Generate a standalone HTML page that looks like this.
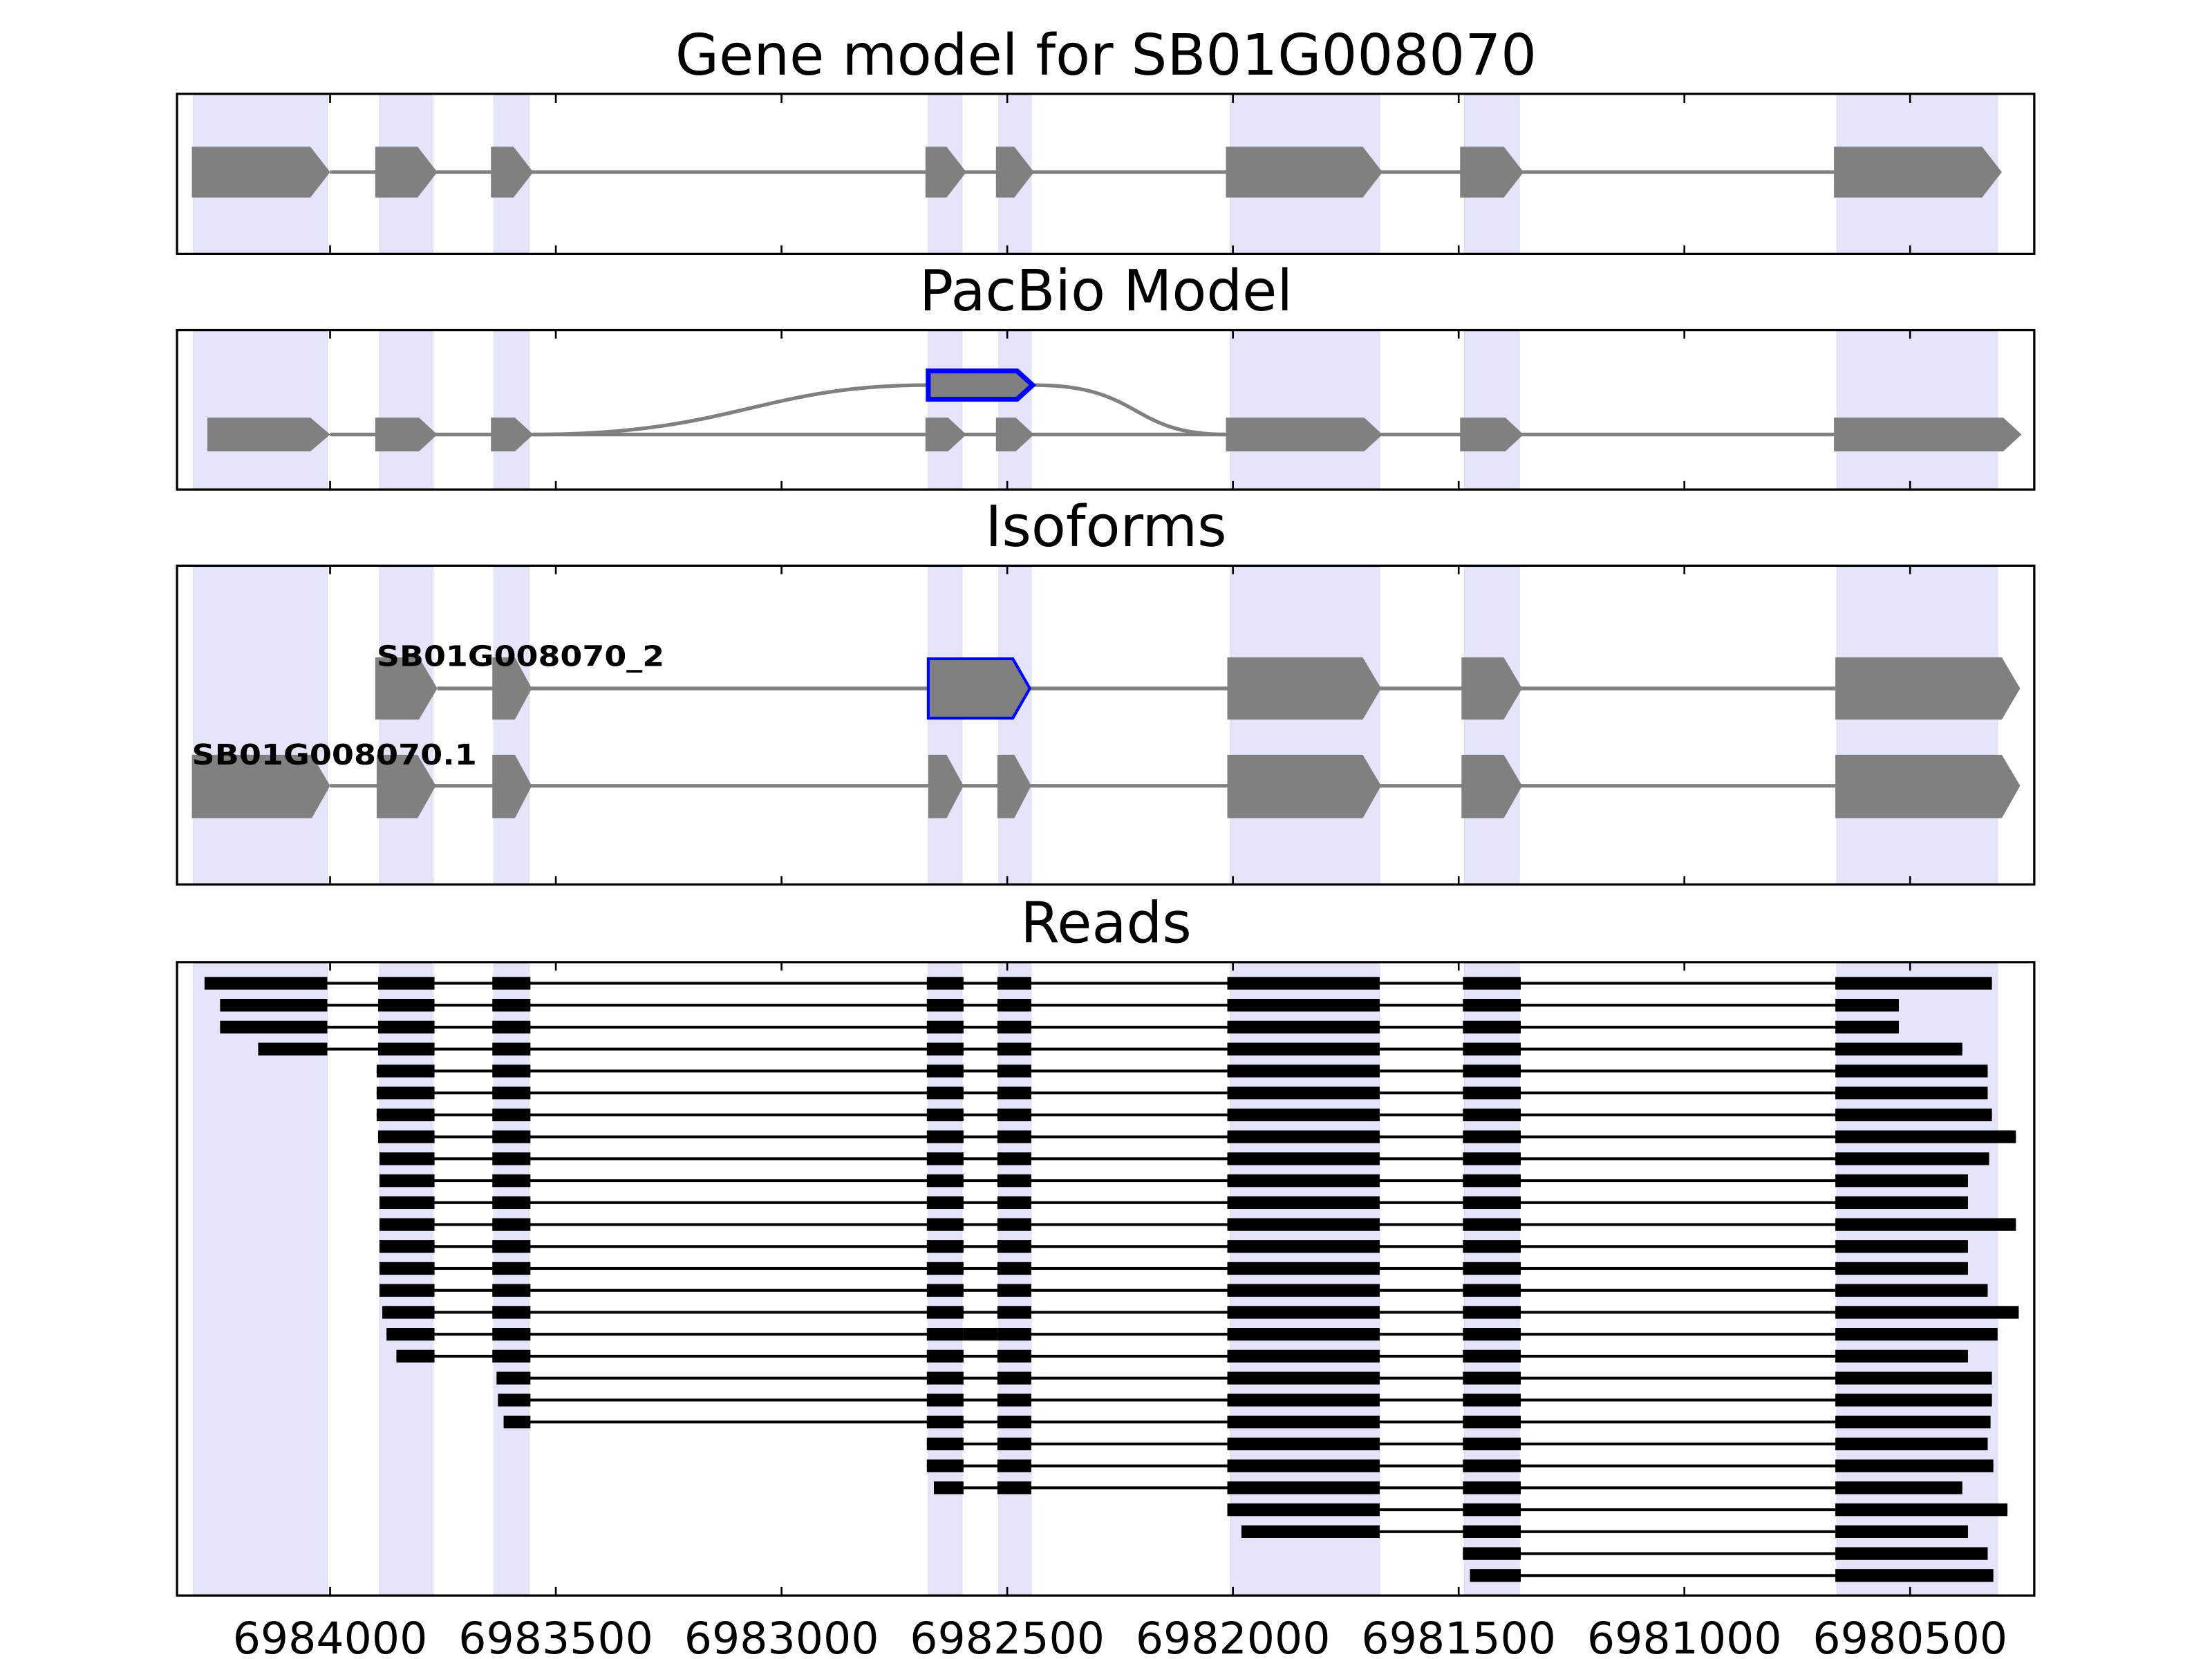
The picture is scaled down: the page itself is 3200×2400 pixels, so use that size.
<!DOCTYPE html>
<html><head><meta charset="utf-8"><style>html,body{margin:0;padding:0;background:#fff}svg{display:block}</style></head>
<body>
<svg xmlns="http://www.w3.org/2000/svg" xmlns:xlink="http://www.w3.org/1999/xlink" width="3200" height="2400" viewBox="0 0 1568 1176" font-family="DejaVu Sans, Liberation Sans, sans-serif">
<defs>
<g id="bands">
<rect x="137" y="0" width="95" height="1" vector-effect="non-scaling-stroke"/><rect x="269" y="0" width="38" height="1" vector-effect="non-scaling-stroke"/><rect x="350" y="0" width="25" height="1" vector-effect="non-scaling-stroke"/><rect x="658" y="0" width="24" height="1" vector-effect="non-scaling-stroke"/><rect x="708" y="0" width="23" height="1" vector-effect="non-scaling-stroke"/><rect x="872" y="0" width="106" height="1" vector-effect="non-scaling-stroke"/><rect x="1038" y="0" width="39" height="1" vector-effect="non-scaling-stroke"/><rect x="1302" y="0" width="114" height="1" vector-effect="non-scaling-stroke"/>
</g>
<g id="ticks" stroke="#000" stroke-width="1.3">
<path d="M234,0v6M394,0v6M554,0v6M714,0v6M874,0v6M1034,0v6M1194,0v6M1354,0v6"/>
</g>
<g id="defg"><rect x="657" y="-4.5" width="26" height="9"/><rect x="707" y="-4.5" width="24" height="9"/><rect x="870" y="-4.5" width="108" height="9"/><rect x="1037" y="-4.5" width="41" height="9"/></g>
<g id="cg"><rect x="349" y="-4.5" width="27" height="9"/><use xlink:href="#defg"/></g>
<g id="bcg"><rect x="268" y="-4.5" width="40" height="9"/><use xlink:href="#cg"/></g>
</defs>

<!-- bands -->
<g fill="#e4e4fb" stroke="#dadaf0" stroke-width="1">
<use xlink:href="#bands" transform="translate(0,67) scale(1,112)"/>
<use xlink:href="#bands" transform="translate(0,235) scale(1,111)"/>
<use xlink:href="#bands" transform="translate(0,402) scale(1,224)"/>
<use xlink:href="#bands" transform="translate(0,683) scale(1,447)"/>
</g>

<!-- titles -->
<g font-size="40" text-anchor="middle" fill="#000">
<text x="784" y="53">Gene model for SB01G008070</text>
<text x="784" y="220">PacBio Model</text>
<text x="784" y="387">Isoforms</text>
<text x="784" y="668">Reads</text>
</g>

<!-- panel 1 -->
<g fill="#808080">
<line x1="234" y1="122" x2="1300" y2="122" stroke="#808080" stroke-width="2.6"/>
<polygon points="136,104 220,104 234,122 220,140 136,140"/>
<polygon points="266,104 296,104 310,122 296,140 266,140"/>
<polygon points="348,104 364,104 378,122 364,140 348,140"/>
<polygon points="656,104 671,104 685,122 671,140 656,140"/>
<polygon points="706,104 719,104 733,122 719,140 706,140"/>
<polygon points="869,104 966,104 980,122 966,140 869,140"/>
<polygon points="1035,104 1066,104 1080,122 1066,140 1035,140"/>
<polygon points="1300,104 1405,104 1419,122 1405,140 1300,140"/>
</g>

<!-- panel 2 -->
<g fill="#808080">
<g fill="none" stroke="#808080" stroke-width="2.6">
<line x1="234" y1="308" x2="1300" y2="308"/>
<path d="M378,308 C520,308 540,273 657,273"/>
<path d="M733,273 C810,273 800,308 869,308"/>
</g>
<polygon points="147,296 220,296 234,308 220,320 147,320"/>
<polygon points="266,296 297,296 310,308 297,320 266,320"/>
<polygon points="348,296 365,296 378,308 365,320 348,320"/>
<polygon points="656,296 672,296 685,308 672,320 656,320"/>
<polygon points="706,296 720,296 733,308 720,320 706,320"/>
<polygon points="869,296 967,296 980,308 967,320 869,320"/>
<polygon points="1035,296 1067,296 1080,308 1067,320 1035,320"/>
<polygon points="1300,296 1420,296 1433,308 1420,320 1300,320"/>
<polygon points="658,263 721,263 732,273 721,283 658,283" stroke="#0000ff" stroke-width="3.5"/>
</g>

<!-- panel 3 -->
<g fill="#808080">
<g stroke="#808080" stroke-width="2.6">
<line x1="310" y1="488" x2="1301" y2="488"/>
<line x1="234" y1="557" x2="1301" y2="557"/>
</g>
<polygon points="266,466 297,466 310,488 297,510 266,510"/>
<polygon points="349,466 365,466 377,488 365,510 349,510"/>
<polygon points="658,467 718,467 730,488 718,509 658,509" stroke="#0000ff" stroke-width="2"/>
<polygon points="870,466 966,466 979,488 966,510 870,510"/>
<polygon points="1036,466 1066,466 1079,488 1066,510 1036,510"/>
<polygon points="1301,466 1419,466 1432,488 1419,510 1301,510"/>

<polygon points="136,535 221,535 234,557 221,580 136,580"/>
<polygon points="267,535 296,535 309,557 296,580 267,580"/>
<polygon points="349,535 365,535 377,557 365,580 349,580"/>
<polygon points="658,535 671,535 683,557 671,580 658,580"/>
<polygon points="707,535 719,535 731,557 719,580 707,580"/>
<polygon points="870,535 966,535 979,557 966,580 870,580"/>
<polygon points="1036,535 1066,535 1079,557 1066,580 1036,580"/>
<polygon points="1301,535 1419,535 1432,557 1419,580 1301,580"/>
</g>
<g font-size="20" font-weight="bold" fill="#000">
<text x="267" y="472" textLength="204" lengthAdjust="spacingAndGlyphs">SB01G008070_2</text>
<text x="136" y="542" textLength="202" lengthAdjust="spacingAndGlyphs">SB01G008070.1</text>
</g>

<!-- reads -->
<g fill="#000" stroke="none">
<g transform="translate(0,697)"><rect x="145" y="-1" width="1267" height="2"/><rect x="145" y="-4.5" width="87" height="9"/><use xlink:href="#bcg"/><rect x="1301" y="-4.5" width="111" height="9"/></g>
<g transform="translate(0,712.55)"><rect x="156" y="-1" width="1190" height="2"/><rect x="156" y="-4.5" width="76" height="9"/><use xlink:href="#bcg"/><rect x="1301" y="-4.5" width="45" height="9"/></g>
<g transform="translate(0,728.1)"><rect x="156" y="-1" width="1190" height="2"/><rect x="156" y="-4.5" width="76" height="9"/><use xlink:href="#bcg"/><rect x="1301" y="-4.5" width="45" height="9"/></g>
<g transform="translate(0,743.65)"><rect x="183" y="-1" width="1208" height="2"/><rect x="183" y="-4.5" width="49" height="9"/><use xlink:href="#bcg"/><rect x="1301" y="-4.5" width="90" height="9"/></g>
<g transform="translate(0,759.2)"><rect x="267" y="-1" width="1142" height="2"/><rect x="267" y="-4.5" width="41" height="9"/><use xlink:href="#cg"/><rect x="1301" y="-4.5" width="108" height="9"/></g>
<g transform="translate(0,774.75)"><rect x="267" y="-1" width="1142" height="2"/><rect x="267" y="-4.5" width="41" height="9"/><use xlink:href="#cg"/><rect x="1301" y="-4.5" width="108" height="9"/></g>
<g transform="translate(0,790.3)"><rect x="267" y="-1" width="1145" height="2"/><rect x="267" y="-4.5" width="41" height="9"/><use xlink:href="#cg"/><rect x="1301" y="-4.5" width="111" height="9"/></g>
<g transform="translate(0,805.85)"><rect x="268" y="-1" width="1161" height="2"/><rect x="268" y="-4.5" width="40" height="9"/><use xlink:href="#cg"/><rect x="1301" y="-4.5" width="128" height="9"/></g>
<g transform="translate(0,821.4)"><rect x="269" y="-1" width="1141" height="2"/><rect x="269" y="-4.5" width="39" height="9"/><use xlink:href="#cg"/><rect x="1301" y="-4.5" width="109" height="9"/></g>
<g transform="translate(0,836.95)"><rect x="269" y="-1" width="1126" height="2"/><rect x="269" y="-4.5" width="39" height="9"/><use xlink:href="#cg"/><rect x="1301" y="-4.5" width="94" height="9"/></g>
<g transform="translate(0,852.5)"><rect x="269" y="-1" width="1126" height="2"/><rect x="269" y="-4.5" width="39" height="9"/><use xlink:href="#cg"/><rect x="1301" y="-4.5" width="94" height="9"/></g>
<g transform="translate(0,868.05)"><rect x="269" y="-1" width="1160" height="2"/><rect x="269" y="-4.5" width="39" height="9"/><use xlink:href="#cg"/><rect x="1301" y="-4.5" width="128" height="9"/></g>
<g transform="translate(0,883.6)"><rect x="269" y="-1" width="1126" height="2"/><rect x="269" y="-4.5" width="39" height="9"/><use xlink:href="#cg"/><rect x="1301" y="-4.5" width="94" height="9"/></g>
<g transform="translate(0,899.15)"><rect x="269" y="-1" width="1126" height="2"/><rect x="269" y="-4.5" width="39" height="9"/><use xlink:href="#cg"/><rect x="1301" y="-4.5" width="94" height="9"/></g>
<g transform="translate(0,914.7)"><rect x="269" y="-1" width="1140" height="2"/><rect x="269" y="-4.5" width="39" height="9"/><use xlink:href="#cg"/><rect x="1301" y="-4.5" width="108" height="9"/></g>
<g transform="translate(0,930.25)"><rect x="271" y="-1" width="1160" height="2"/><rect x="271" y="-4.5" width="37" height="9"/><use xlink:href="#cg"/><rect x="1301" y="-4.5" width="130" height="9"/></g>
<g transform="translate(0,945.8)"><rect x="274" y="-1" width="1142" height="2"/><rect x="274" y="-4.5" width="34" height="9"/><use xlink:href="#cg"/><rect x="683" y="-4.5" width="24" height="9"/><rect x="1301" y="-4.5" width="115" height="9"/></g>
<g transform="translate(0,961.35)"><rect x="281" y="-1" width="1114" height="2"/><rect x="281" y="-4.5" width="27" height="9"/><use xlink:href="#cg"/><rect x="1301" y="-4.5" width="94" height="9"/></g>
<g transform="translate(0,976.9)"><rect x="352" y="-1" width="1060" height="2"/><rect x="352" y="-4.5" width="24" height="9"/><use xlink:href="#defg"/><rect x="1301" y="-4.5" width="111" height="9"/></g>
<g transform="translate(0,992.45)"><rect x="353" y="-1" width="1059" height="2"/><rect x="353" y="-4.5" width="23" height="9"/><use xlink:href="#defg"/><rect x="1301" y="-4.5" width="111" height="9"/></g>
<g transform="translate(0,1008)"><rect x="357" y="-1" width="1054" height="2"/><rect x="357" y="-4.5" width="19" height="9"/><use xlink:href="#defg"/><rect x="1301" y="-4.5" width="110" height="9"/></g>
<g transform="translate(0,1023.55)"><rect x="657" y="-1" width="752" height="2"/><use xlink:href="#defg"/><rect x="1301" y="-4.5" width="108" height="9"/></g>
<g transform="translate(0,1039.1)"><rect x="657" y="-1" width="756" height="2"/><use xlink:href="#defg"/><rect x="1301" y="-4.5" width="112" height="9"/></g>
<g transform="translate(0,1054.65)"><rect x="662" y="-1" width="729" height="2"/><rect x="662" y="-4.5" width="21" height="9"/><rect x="707" y="-4.5" width="24" height="9"/><rect x="870" y="-4.5" width="108" height="9"/><rect x="1037" y="-4.5" width="41" height="9"/><rect x="1301" y="-4.5" width="90" height="9"/></g>
<g transform="translate(0,1070.2)"><rect x="870" y="-1" width="553" height="2"/><rect x="870" y="-4.5" width="108" height="9"/><rect x="1037" y="-4.5" width="41" height="9"/><rect x="1301" y="-4.5" width="122" height="9"/></g>
<g transform="translate(0,1085.75)"><rect x="880" y="-1" width="515" height="2"/><rect x="880" y="-4.5" width="98" height="9"/><rect x="1037" y="-4.5" width="41" height="9"/><rect x="1301" y="-4.5" width="94" height="9"/></g>
<g transform="translate(0,1101.3)"><rect x="1037" y="-1" width="372" height="2"/><rect x="1037" y="-4.5" width="41" height="9"/><rect x="1301" y="-4.5" width="108" height="9"/></g>
<g transform="translate(0,1116.85)"><rect x="1042" y="-1" width="371" height="2"/><rect x="1042" y="-4.5" width="36" height="9"/><rect x="1301" y="-4.5" width="112" height="9"/></g>
</g>

<!-- frames -->
<g fill="none" stroke="#000" stroke-width="1.6">
<rect x="125.5" y="66.5" width="1316.5" height="113.5"/>
<rect x="125.5" y="234" width="1316.5" height="113"/>
<rect x="125.5" y="401" width="1316.5" height="226"/>
<rect x="125.5" y="682" width="1316.5" height="449"/>
</g>
<use xlink:href="#ticks" transform="translate(0,67)"/>
<use xlink:href="#ticks" transform="translate(0,180) scale(1,-1)"/>
<use xlink:href="#ticks" transform="translate(0,234)"/>
<use xlink:href="#ticks" transform="translate(0,347) scale(1,-1)"/>
<use xlink:href="#ticks" transform="translate(0,401)"/>
<use xlink:href="#ticks" transform="translate(0,627) scale(1,-1)"/>
<use xlink:href="#ticks" transform="translate(0,682)"/>
<use xlink:href="#ticks" transform="translate(0,1131) scale(1,-1)"/>

<!-- tick labels -->
<g font-size="31" text-anchor="middle" fill="#000">
<text x="234" y="1172">6984000</text>
<text x="394" y="1172">6983500</text>
<text x="554" y="1172">6983000</text>
<text x="714" y="1172">6982500</text>
<text x="874" y="1172">6982000</text>
<text x="1034" y="1172">6981500</text>
<text x="1194" y="1172">6981000</text>
<text x="1354" y="1172">6980500</text>
</g>
</svg>
</body></html>
